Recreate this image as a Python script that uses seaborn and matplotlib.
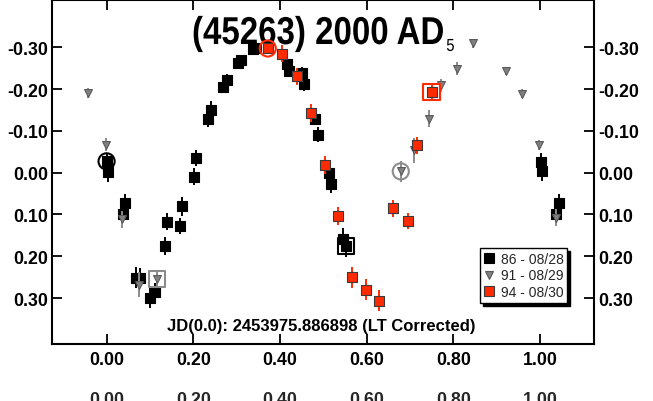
import matplotlib
matplotlib.use("Agg")
import numpy as np
import pandas as pd
import seaborn as sns
import matplotlib.pyplot as plt
from matplotlib.patheffects import AbstractPathEffect
from matplotlib.transforms import Affine2D, Bbox
from matplotlib.text import Text

# Night 86 - 08/28
phase_86 = [0.000, 0.003, 0.037, 0.043, 0.069, 0.077, 0.101, 0.111, 0.135, 0.140,
            0.169, 0.174, 0.202, 0.206, 0.235, 0.241, 0.269, 0.277, 0.304, 0.310,
            0.337, 0.345, 0.417, 0.421, 0.451, 0.456, 0.482, 0.488, 0.514, 0.519,
            0.545, 0.552, 1.002, 1.006, 1.037, 1.044]
mag_86 = [-0.027, -0.002, 0.099, 0.072, 0.251, 0.252, 0.300, 0.285, 0.176, 0.117,
          0.128, 0.081, 0.010, -0.035, -0.129, -0.151, -0.205, -0.221, -0.262, -0.269,
          -0.295, -0.298, -0.259, -0.243, -0.238, -0.211, -0.128, -0.091, 0.002, 0.027,
          0.158, 0.176, -0.026, -0.004, 0.098, 0.072]
err_86 = [0.020, 0.025, 0.020, 0.022, 0.025, 0.025, 0.025, 0.020, 0.022, 0.020,
          0.020, 0.022, 0.020, 0.020, 0.020, 0.020, 0.015, 0.015, 0.012, 0.012,
          0.012, 0.012, 0.012, 0.012, 0.015, 0.015, 0.015, 0.018, 0.020, 0.022,
          0.025, 0.025, 0.020, 0.025, 0.020, 0.022]

# Night 91 - 08/29
phase_91 = [-0.042, -0.002, 0.036, 0.075, 0.117, 0.679, 0.709, 0.744, 0.773, 0.808,
            0.846, 0.921, 0.958, 0.998, 1.037]
mag_91 = [-0.191, -0.067, 0.112, 0.268, 0.255, -0.003, -0.053, -0.129, -0.209, -0.249,
          -0.309, -0.243, -0.189, -0.067, 0.108]
err_91 = [0.012, 0.015, 0.020, 0.030, 0.020, 0.025, 0.030, 0.020, 0.015, 0.015,
          0.010, 0.010, 0.010, 0.012, 0.020]

# Night 94 - 08/30
phase_94 = [0.372, 0.405, 0.439, 0.471, 0.504, 0.533, 0.567, 0.598, 0.629, 0.662,
            0.695, 0.717, 0.750]
mag_94 = [-0.297, -0.285, -0.230, -0.143, -0.018, 0.104, 0.250, 0.280, 0.307, 0.085,
          0.116, -0.065, -0.193]
err_94 = [0.012, 0.020, 0.020, 0.022, 0.022, 0.022, 0.025, 0.025, 0.025, 0.020,
          0.020, 0.020, 0.020]

night_labels = ["86 - 08/28", "91 - 08/29", "94 - 08/30"]
# first / last observation of each night (index into the arrays above)
first_idx = [0, 5, 0]
last_idx = [31, 4, 12]

x_ticks = [0.0, 0.2, 0.4, 0.6, 0.8, 1.0]
x_tick_labels = ["0.00", "0.20", "0.40", "0.60", "0.80", "1.00"]
y_ticks = [-0.3, -0.2, -0.1, 0.0, 0.1, 0.2, 0.3]
y_tick_labels = ["-0.30", "-0.20", "-0.10", "0.00", "0.10", "0.20", "0.30"]

title_main = "(45263) 2000 AD"
title_sub = "5"
jd_note = "JD(0.0): 2453975.886898 (LT Corrected)"


class Squeeze(AbstractPathEffect):
    """Narrow the glyphs horizontally, about the text's own origin."""

    def __init__(self, fx):
        super().__init__()
        self.fx = fx

    def draw_path(self, renderer, gc, tpath, affine, rgbFace=None):
        renderer.draw_path(gc, tpath, Affine2D().scale(self.fx, 1.0) + affine, rgbFace)


class NarrowText(Text):
    """Left-anchored text drawn with condensed glyphs."""

    def __init__(self, *args, squeeze=1.0, **kwargs):
        super().__init__(*args, **kwargs)
        self._squeeze = squeeze
        self.set_path_effects([Squeeze(squeeze)])

    def get_window_extent(self, renderer=None, dpi=None):
        bb = super().get_window_extent(renderer, dpi)
        return Bbox.from_extents(bb.x0, bb.y0, bb.x0 + self._squeeze * bb.width, bb.y1)


frames = []
for lab, ph, mg, er in [(night_labels[0], phase_86, mag_86, err_86),
                        (night_labels[1], phase_91, mag_91, err_91),
                        (night_labels[2], phase_94, mag_94, err_94)]:
    frames.append(pd.DataFrame({"phase": ph, "mag": mg, "err": er, "night": lab}))
df = pd.concat(frames, ignore_index=True)

sns.set_theme(style="ticks")
plt.rcParams["font.family"] = ["Liberation Sans", "DejaVu Sans"]

fig = plt.figure(figsize=(6.53, 4.02), dpi=100)
fig.patch.set_facecolor("white")
ax = fig.add_axes([52 / 653, 1 - 345 / 402, 542 / 653, 344 / 402])
ax.set_facecolor("white")

styles = {
    night_labels[0]: dict(marker="s", face="black", edge="black", ecol="black", s=44, z=3),
    night_labels[1]: dict(marker="v", face="#808080", edge="#5a5a5a", ecol="#8c8c8c", s=32, z=4),
    night_labels[2]: dict(marker="s", face="#ff2a00", edge="#3a3a3a", ecol="#ff2a00", s=44, z=5),
}
ring_colors = {night_labels[0]: "black", night_labels[1]: "#8c8c8c", night_labels[2]: "#ff2a00"}

handles = []
for i, lab in enumerate(night_labels):
    sub = df[df["night"] == lab].reset_index(drop=True)
    st = styles[lab]
    ax.errorbar(sub["phase"], sub["mag"], yerr=sub["err"], fmt="none",
                ecolor=st["ecol"], elinewidth=1.4, capsize=0, zorder=st["z"])
    sns.scatterplot(data=sub, x="phase", y="mag", marker=st["marker"], s=st["s"],
                    color=st["face"], edgecolor=st["edge"], linewidth=0.8,
                    zorder=st["z"] + 0.5, ax=ax, legend=False)
    # open circle on the first point of the night, open square on the last
    f = sub.iloc[[first_idx[i]]]
    l = sub.iloc[[last_idx[i]]]
    ax.scatter(f["phase"], f["mag"], s=135, marker="o", facecolors="none",
               edgecolors=ring_colors[lab], linewidths=1.5, zorder=st["z"] + 0.6)
    ax.scatter(l["phase"], l["mag"], s=135, marker="s", facecolors="none",
               edgecolors=ring_colors[lab], linewidths=1.5, zorder=st["z"] + 0.6)
    handles.append(plt.Line2D([], [], linestyle="none", marker=st["marker"],
                              markersize=np.sqrt(st["s"]) * 1.1,
                              markerfacecolor=st["face"], markeredgecolor=st["edge"],
                              markeredgewidth=0.8, label=lab))

ax.set_xlim(-0.126, 1.125)
ax.set_ylim(0.41, -0.413)
ax.set_xlabel("")
ax.set_ylabel("")

ax.set_xticks(x_ticks, x_tick_labels)
ax.set_yticks(y_ticks, y_tick_labels)
ax.tick_params(axis="both", direction="in", length=7, width=1.3, color="black",
               labelsize=12.8, labelcolor="black")
ax.tick_params(axis="x", top=True, labeltop=False, pad=5)
ax.tick_params(axis="y", left=True, right=True, labelleft=True, labelright=True, pad=3)
for t in ax.xaxis.get_major_ticks() + ax.yaxis.get_major_ticks():
    t.label1.set_fontweight("bold")
    t.label2.set_fontweight("bold")

for sp in ax.spines.values():
    sp.set_visible(True)
    sp.set_color("black")
    sp.set_linewidth(1.5)

# second row of phase labels below the axis
sec = ax.secondary_xaxis("bottom")
sec.set_xticks(x_ticks, x_tick_labels)
sec.tick_params(length=0, pad=34, labelsize=12.8)
sec.spines["bottom"].set_visible(False)
for lbl in sec.get_xticklabels():
    lbl.set_fontweight("bold")

leg = ax.legend(handles=handles, loc="lower right", bbox_to_anchor=(0.951, 0.12),
                frameon=True, fancybox=False, framealpha=1, edgecolor="black",
                fontsize=10, handlelength=0.9, handletextpad=0.4, borderpad=0.25,
                labelspacing=0.2, borderaxespad=0,
                shadow={"color": "black", "alpha": 1, "ox": 2.2, "oy": -2.2})
leg.get_frame().set_linewidth(1.0)
leg.set_zorder(10)

fx = 0.85
x_left = (192 - 52) / 542
main = NarrowText(x_left, 0.872, title_main, transform=ax.transAxes, ha="left",
                  va="baseline", fontsize=28, fontweight="bold", color="black",
                  zorder=1, squeeze=fx)
ax.add_artist(main)
fig.canvas.draw()
bb = main.get_window_extent()
x_end = ax.transAxes.inverted().transform((bb.x1, bb.y0))[0]
ax.add_artist(NarrowText(x_end + 0.004, 0.852, title_sub, transform=ax.transAxes,
                         ha="left", va="baseline", fontsize=12.5, color="black",
                         zorder=1, squeeze=fx))

ax.text(0.497, 0.04, jd_note, transform=ax.transAxes, ha="center", va="baseline",
        fontsize=12, fontweight="bold", color="black")

fig.savefig("out.png", dpi=100, facecolor="white")
